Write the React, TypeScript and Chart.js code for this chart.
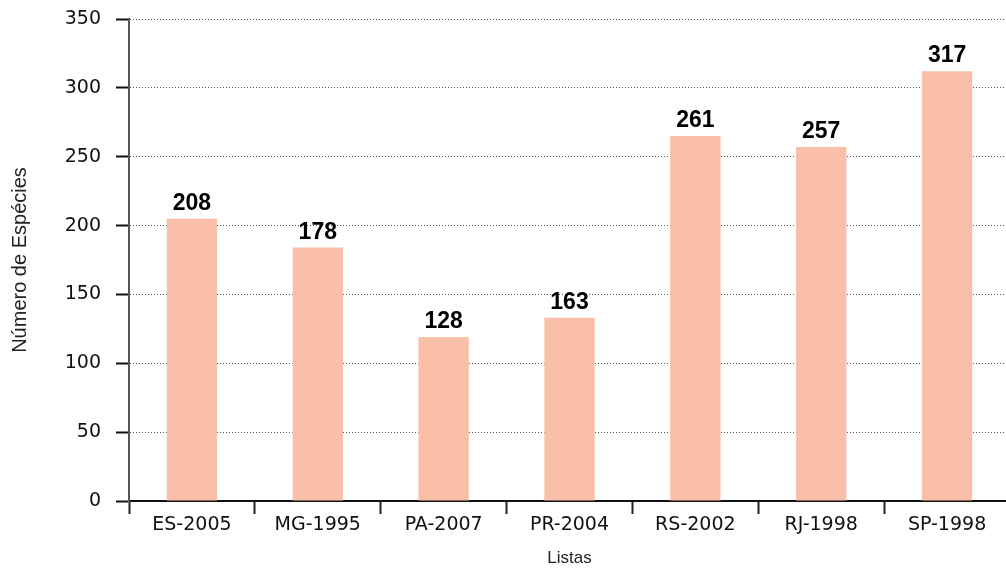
import React, { useEffect, useRef } from "react";
import { Chart, registerables } from "chart.js";

Chart.register(...registerables);

const categories = ["ES-2005", "MG-1995", "PA-2007", "PR-2004", "RS-2002", "RJ-1998", "SP-1998"];
const barValues = [205, 184, 119, 133, 265, 257, 312];
const valueLabels = ["208", "178", "128", "163", "261", "257", "317"];
const yMin = 0;
const yMax = 350;
const yStep = 50;
const xTitle = "Listas";
const yTitle = "Número de Espécies";

const FONT = "'Liberation Sans', Arial, sans-serif";
const TICK_FONT = "'DejaVu Sans', sans-serif";

const valueLabelPlugin = {
  id: "valueLabelPlugin",
  afterDatasetsDraw(chart: any) {
    const ctx = chart.ctx;
    const meta = chart.getDatasetMeta(0);
    ctx.save();
    ctx.font = `bold 23px ${FONT}`;
    ctx.fillStyle = "#000";
    ctx.textAlign = "center";
    ctx.textBaseline = "alphabetic";
    meta.data.forEach((el: any, i: number) => {
      ctx.fillText(valueLabels[i], el.x, el.y - 9);
    });
    ctx.restore();
  },
};

export default function App() {
  const canvasRef = useRef<HTMLCanvasElement | null>(null);

  useEffect(() => {
    if (!canvasRef.current) return;
    const chart = new Chart(canvasRef.current, {
      type: "bar",
      data: {
        labels: categories,
        datasets: [
          {
            data: barValues,
            backgroundColor: "#F9BFA8",
            borderWidth: 0,
            barPercentage: 0.4,
            categoryPercentage: 1,
          },
        ],
      },
      options: {
        animation: false,
        responsive: false,
        layout: { padding: { top: 19, right: 0, bottom: 0, left: 0 } },
        plugins: {
          legend: { display: false },
          tooltip: { enabled: false },
        },
        scales: {
          x: {
            grid: {
              drawOnChartArea: false,
              drawTicks: true,
              tickLength: 13,
              tickColor: "#222",
              tickWidth: 2,
              offset: true,
            },
            border: { display: true, color: "#111", width: 2 },
            ticks: {
              font: { size: 19, family: TICK_FONT },
              color: "#111",
              padding: 0,
              maxRotation: 0,
            },
            title: {
              display: true,
              text: xTitle,
              font: { size: 17, family: FONT },
              color: "#222",
              padding: { top: 0, bottom: 1 },
            },
            afterFit: (s: any) => {
              s.height = 69;
              s.paddingLeft = 0;
              s.paddingRight = 0;
            },
          },
          y: {
            min: yMin,
            max: yMax,
            ticks: {
              stepSize: yStep,
              font: { size: 19, family: TICK_FONT },
              color: "#111",
              padding: 15,
            },
            grid: {
              color: "#555",
              lineWidth: 1,
              tickLength: 13,
              tickColor: "#111",
              tickWidth: 2,
              tickBorderDash: [],
            },
            border: { display: true, color: "#555", width: 2, dash: [1, 2] },
            title: {
              display: true,
              text: yTitle,
              font: { size: 20, family: FONT },
              color: "#222",
              padding: { top: 8, bottom: 0 },
            },
            afterFit: (s: any) => {
              s.width = 129;
              s.paddingTop = 0;
              s.paddingBottom = 0;
            },
          },
        },
      },
      plugins: [valueLabelPlugin],
    });
    return () => chart.destroy();
  }, []);

  return (
    <div
      style={{
        position: "fixed",
        left: 0,
        top: 0,
        width: 1006,
        height: 570,
        overflow: "hidden",
        background: "#fff",
      }}
    >
      <canvas ref={canvasRef} width={1010} height={570} style={{ display: "block" }} />
    </div>
  );
}
